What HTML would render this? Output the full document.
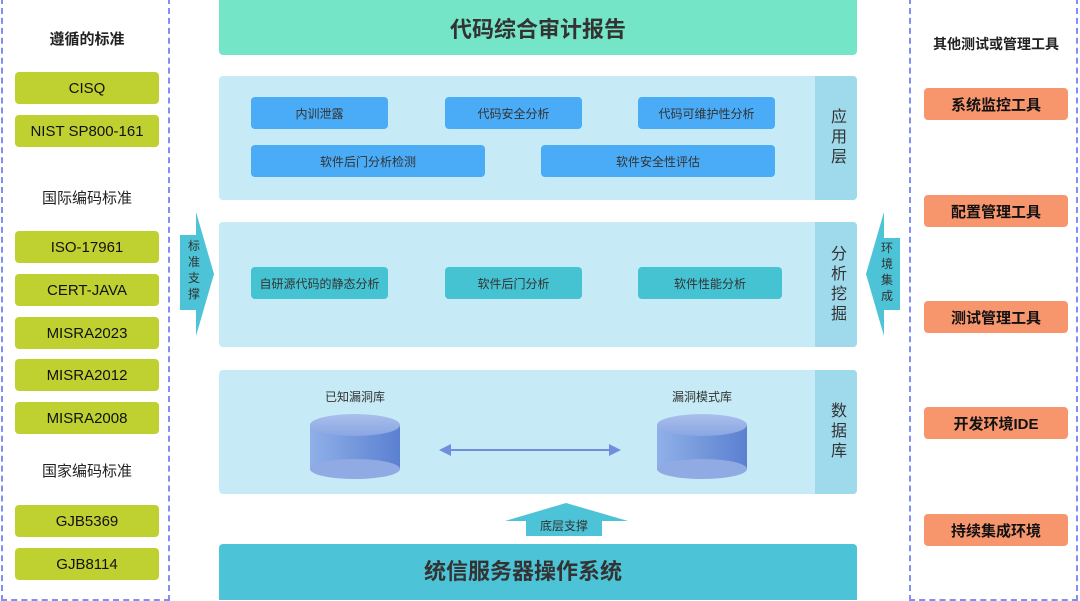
<!DOCTYPE html><html><head><meta charset="utf-8"><style>
*{margin:0;padding:0;box-sizing:border-box}
body{width:1080px;height:599px;position:relative;background:#fff;font-family:"Liberation Sans","Noto Sans CJK SC",sans-serif;overflow:hidden;color:#222}
.a{position:absolute}
.c{display:flex;align-items:center;justify-content:center;text-align:center}
.g{background:#bfd130;border-radius:4px;left:15px;width:144px;height:32px;font-size:15px;color:#111}
.o{background:#f7956d;border-radius:4px;left:924px;width:144px;height:32px;font-size:15px;color:#111;font-weight:bold}
.h{font-size:15px;font-weight:bold;color:#222}
.panel{background:#c6ebf6;border-radius:4px;left:219px;width:638px}
.side{background:#9ed9ec;left:815px;width:42px;border-radius:0 4px 4px 0;font-size:16px;line-height:24px;color:#333;writing-mode:vertical-rl;letter-spacing:4px}
.b{background:#4aabf6;border-radius:4px;height:32px;font-size:12px;color:#333}
.t{background:#45c3d3;border-radius:4px;height:32px;font-size:12px;color:#333}
</style></head><body>
<div class="a" style="left:1px;top:-2px;width:169px;height:603px;border:2px dashed #7f8ff5"></div>
<div class="a" style="left:909px;top:-2px;width:169px;height:603px;border:2px dashed #7f8ff5"></div>
<div class="a c h" style="left:15px;width:144px;top:28px;height:20px">遵循的标准</div>
<div class="a c g" style="top:72px">CISQ</div>
<div class="a c g" style="top:115px">NIST SP800-161</div>
<div class="a c h" style="left:15px;width:144px;top:187px;height:20px;font-weight:normal">国际编码标准</div>
<div class="a c g" style="top:231px">ISO-17961</div>
<div class="a c g" style="top:274px">CERT-JAVA</div>
<div class="a c g" style="top:317px">MISRA2023</div>
<div class="a c g" style="top:359px">MISRA2012</div>
<div class="a c g" style="top:402px">MISRA2008</div>
<div class="a c h" style="left:15px;width:144px;top:460px;height:20px;font-weight:normal">国家编码标准</div>
<div class="a c g" style="top:505px">GJB5369</div>
<div class="a c g" style="top:548px">GJB8114</div>

<div class="a c h" style="left:914px;width:164px;top:34px;height:20px;font-size:14px">其他测试或管理工具</div>
<div class="a c o" style="top:88px">系统监控工具</div>
<div class="a c o" style="top:195px">配置管理工具</div>
<div class="a c o" style="top:301px">测试管理工具</div>
<div class="a c o" style="top:407px">开发环境IDE</div>
<div class="a c o" style="top:514px">持续集成环境</div>

<div class="a c" style="left:219px;top:0;width:638px;height:55px;background:#74e5c6;border-radius:0 0 4px 4px;font-size:22px;font-weight:bold;color:#333">代码综合审计报告</div>

<div class="a panel" style="top:76px;height:124px"></div>
<div class="a side c" style="top:76px;height:124px">应用层</div>
<div class="a c b" style="left:251px;top:97px;width:137px">内训泄露</div>
<div class="a c b" style="left:445px;top:97px;width:137px">代码安全分析</div>
<div class="a c b" style="left:638px;top:97px;width:137px">代码可维护性分析</div>
<div class="a c b" style="left:251px;top:145px;width:234px">软件后门分析检测</div>
<div class="a c b" style="left:541px;top:145px;width:234px">软件安全性评估</div>

<div class="a panel" style="top:222px;height:125px"></div>
<div class="a side c" style="top:222px;height:125px">分析挖掘</div>
<div class="a c t" style="left:251px;top:267px;width:137px">自研源代码的静态分析</div>
<div class="a c t" style="left:445px;top:267px;width:137px">软件后门分析</div>
<div class="a c t" style="left:638px;top:267px;width:144px">软件性能分析</div>

<div class="a panel" style="top:370px;height:124px"></div>
<div class="a side c" style="top:370px;height:124px">数据库</div>
<div class="a c" style="left:300px;top:387px;width:110px;height:18px;font-size:12px;color:#333">已知漏洞库</div>
<div class="a c" style="left:647px;top:387px;width:110px;height:18px;font-size:12px;color:#333">漏洞模式库</div>
<svg class="a" style="left:219px;top:370px" width="600" height="124">
<defs><linearGradient id="cg" x1="0" x2="1"><stop offset="0" stop-color="#8fb0e8"/><stop offset="1" stop-color="#5b80d0"/></linearGradient>
<linearGradient id="ct" x1="0" y1="0" x2="0" y2="1"><stop offset="0" stop-color="#a9c0ec"/><stop offset="1" stop-color="#8aa6e2"/></linearGradient></defs>
<g><rect x="91" y="55" width="90" height="44" fill="url(#cg)"/><ellipse cx="136" cy="99" rx="45" ry="10" fill="#90aae4"/><ellipse cx="136" cy="55" rx="45" ry="11" fill="url(#ct)"/></g>
<g><rect x="438" y="55" width="90" height="44" fill="url(#cg)"/><ellipse cx="483" cy="99" rx="45" ry="10" fill="#90aae4"/><ellipse cx="483" cy="55" rx="45" ry="11" fill="url(#ct)"/></g>
<line x1="230" y1="80" x2="392" y2="80" stroke="#6f8fdc" stroke-width="2"/>
<polygon points="220,80 232,74 232,86" fill="#6f8fdc"/><polygon points="402,80 390,74 390,86" fill="#6f8fdc"/>
</svg>

<svg class="a" style="left:0;top:0" width="1080" height="599">
<polygon points="180,235 196,235 196,212 214,274 196,336 196,310 180,310" fill="#4cc3d7"/>
<polygon points="900,238 884,238 884,212 866,274 884,336 884,310 900,310" fill="#4cc3d7"/>
<polygon points="526,536 526,521 505,521 566,503 628,521 602,521 602,536" fill="#4cc3d7"/>
</svg>
<div class="a" style="left:188px;top:238px;width:16px;font-size:12px;line-height:16px;color:#333">标准支撑</div>
<div class="a" style="left:881px;top:240px;width:16px;font-size:12px;line-height:16px;color:#333">环境集成</div>
<div class="a c" style="left:526px;top:516px;width:76px;height:18px;font-size:12px;color:#333">底层支撑</div>

<div class="a" style="left:219px;top:544px;width:638px;height:56px;background:#4cc3d7;border-radius:4px 4px 0 0;font-size:22px;font-weight:bold;color:#333;padding-left:205px;line-height:56px">统信服务器操作系统</div>
</body></html>
